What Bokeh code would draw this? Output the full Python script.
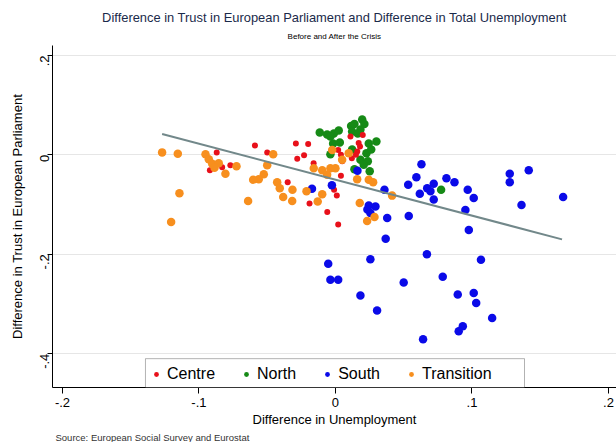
import math
from bokeh.plotting import figure
from bokeh.models import (Range1d, FixedTicker, BoxAnnotation, Legend,
                          LegendItem, Title)
from bokeh.embed import file_html
from bokeh.resources import INLINE

# ---------------- data ----------------
centre_x = [-0.087, -0.092, -0.083, -0.077, -0.059, -0.050, -0.029, -0.028,
            -0.035, -0.020, -0.023, -0.016, 0.011, 0.018, 0.016, 0.015,
            0.002, 0.004, 0.005, 0.012, 0.004, -0.001, 0.001, -0.019,
            -0.006, 0.002, 0.017, 0.020]
centre_y = [0.005, -0.031, -0.025, -0.021, 0.019, 0.005, 0.023, -0.008,
            -0.055, 0.022, -0.001, -0.017, 0.037, 0.017, 0.007, 0.000,
            0.010, 0.000, -0.013, -0.007, -0.042, -0.070, -0.082, -0.098,
            -0.115, -0.140, 0.024, 0.040]

north_x = [-0.0115, -0.0061, -0.0012, 0.0024, -0.0037, 0.0115, 0.0139,
           0.0196, 0.0212, 0.0183, 0.0122, 0.0163, -0.0017, 0.0032, 0.0244,
           0.0300, 0.0122, 0.0227, 0.0262, 0.0183, 0.0237, 0.0207, 0.0139,
           0.0251, -0.0037, 0.0774]
north_y = [0.045, 0.041, 0.043, 0.049, 0.037, 0.058, 0.062, 0.071, 0.062,
           0.051, 0.047, 0.043, 0.023, 0.025, 0.023, 0.027, 0.011, 0.003,
           0.011, -0.010, -0.013, -0.020, -0.029, -0.033, 0.001, -0.070]

south_x = [0.0161, -0.0172, -0.0026, 0.0359, 0.0244, 0.0293, 0.0234, 0.0256,
           0.0379, 0.0368, 0.0630, 0.0593, 0.0533, 0.0672, 0.0720, 0.0696,
           0.0618, 0.0720, 0.0813, 0.0872, 0.0969, 0.1013, 0.0952, 0.0977,
           0.1277, 0.1277, 0.1416, 0.1363, 0.1668, 0.0537, 0.0670, 0.1066,
           -0.0053, 0.0256, -0.0037, 0.0020, 0.0500, 0.0786, 0.0183, 0.0896,
           0.1013, 0.1031, 0.0305, 0.1148, 0.0933, 0.0903, 0.0642]
south_y = [-0.032, -0.068, -0.061, -0.070, -0.102, -0.104, -0.110, -0.117,
           -0.127, -0.169, -0.019, -0.045, -0.060, -0.067, -0.058, -0.073,
           -0.078, -0.090, -0.047, -0.055, -0.070, -0.087, -0.111, -0.151,
           -0.038, -0.055, -0.031, -0.101, -0.085, -0.123, -0.200, -0.211,
           -0.219, -0.210, -0.251, -0.251, -0.257, -0.245, -0.283, -0.281,
           -0.278, -0.298, -0.313, -0.328, -0.345, -0.355, -0.371]

trans_x = [-0.1270, -0.1155, -0.0952, -0.0928, -0.0903, -0.0855, -0.0806,
           -0.0725, -0.0456, -0.0500, -0.0525, -0.0562, -0.0603, -0.0427,
           -0.0408, -0.0315, -0.0383, -0.0317, -0.0640, -0.1143, -0.1204,
           -0.0212, -0.0097, -0.0130, 0.0178, 0.0232, 0.0286, 0.0159, 0.0244,
           0.0276, -0.0024, 0.0049, 0.0097, -0.0159, -0.0097, -0.0037, 0.0000,
           -0.0061, 0.0415, -0.0886]
trans_y = [0.005, 0.002, 0.001, -0.009, -0.018, -0.017, -0.038, -0.023,
           0.001, -0.021, -0.039, -0.049, -0.050, -0.055, -0.067, -0.070,
           -0.085, -0.093, -0.093, -0.077, -0.135, -0.073, -0.079, -0.094,
           -0.097, -0.133, -0.125, -0.049, -0.050, -0.055, 0.010, -0.010,
           0.003, -0.027, -0.031, -0.027, -0.027, -0.040, -0.082, -0.026]

fit_x = [-0.127, 0.166]
fit_y = [0.042, -0.170]

x_ticks = [-0.2, -0.1, 0, 0.1, 0.2]
x_tick_labels = ["-.2", "-.1", "0", ".1", ".2"]
y_ticks = [-0.4, -0.2, 0, 0.2]
y_tick_labels = ["-.4", "-.2", "0", ".2"]

title_text = "Difference in Trust in European Parliament and Difference in Total Unemployment"
subtitle_text = "Before and After the Crisis"
xlabel_text = "Difference in Unemployment"
ylabel_text = "Difference in Trust in European Parliament"
source_text = "Source: European Social Survey and Eurostat"
group_names = ["Centre", "North", "South", "Transition"]

# ---------------- styling ----------------
FONT = "Liberation Sans"
C_RED = "#e8101a"
C_GREEN = "#168a16"
C_BLUE = "#0a0ae8"
C_ORANGE = "#f78f1e"
C_FIT = "#72888a"

X0, X1 = -0.2073, 0.2059
Y0, Y1 = -0.468, 0.22

p = figure(width=616, height=442, output_backend="svg", toolbar_location=None,
           x_range=Range1d(X0, X1), y_range=Range1d(Y0, Y1),
           min_border_left=52, min_border_right=0, min_border_top=45,
           min_border_bottom=53)
p.background_fill_color = "white"
p.border_fill_color = "white"
p.outline_line_color = None

# axes
p.xaxis.ticker = FixedTicker(ticks=x_ticks)
p.xaxis.major_label_overrides = dict(zip(x_ticks, x_tick_labels))
p.yaxis.ticker = FixedTicker(ticks=y_ticks)
p.yaxis.major_label_overrides = dict(zip(y_ticks, y_tick_labels))
for ax in (p.xaxis, p.yaxis):
    ax.axis_line_color = "black"
    ax.axis_line_width = 1
    ax.major_tick_line_color = "black"
    ax.major_tick_in = 0
    ax.minor_tick_line_color = None
    ax.major_label_text_font = FONT
    ax.major_label_text_font_size = "13px"
    ax.major_label_text_color = "black"
    ax.axis_label_text_font = FONT
    ax.axis_label_text_font_size = "13px"
    ax.axis_label_text_font_style = "normal"
    ax.axis_label_text_color = "black"
p.xaxis.major_tick_out = 6
p.xaxis.major_label_standoff = 4
p.xaxis.axis_label = xlabel_text
p.xaxis.axis_label_standoff = 2
p.yaxis.major_tick_out = 5
p.yaxis.major_label_standoff = 3
p.yaxis.major_label_orientation = math.pi / 2
p.yaxis.axis_label = ylabel_text
p.yaxis.axis_label_standoff = 8

p.xgrid.grid_line_color = None
p.ygrid.ticker = FixedTicker(ticks=y_ticks)
p.ygrid.grid_line_color = "#e6e6e6"
p.ygrid.grid_line_width = 1

# points
r_n = p.scatter(north_x, north_y, size=8.5, color=C_GREEN, line_color=None)
r_c = p.scatter(centre_x, centre_y, size=6, color=C_RED, line_color=None)
r_s = p.scatter(south_x, south_y, size=8.5, color=C_BLUE, line_color=None)
r_t = p.scatter(trans_x, trans_y, size=8.5, color=C_ORANGE, line_color=None)

# fitted line
p.line(fit_x, fit_y, line_color=C_FIT, line_width=2)

# legend frame and legend
box = BoxAnnotation(left=-0.1392, right=0.1385, top=-0.410, bottom=Y0,
                    fill_color="white", fill_alpha=1.0,
                    line_color="black", line_width=1)
p.add_layout(box)

legend = Legend(items=[LegendItem(label=group_names[0], renderers=[r_c]),
                       LegendItem(label=group_names[1], renderers=[r_n]),
                       LegendItem(label=group_names[2], renderers=[r_s]),
                       LegendItem(label=group_names[3], renderers=[r_t])],
                location=(98, 3), orientation="horizontal")
legend.border_line_alpha = 0
legend.background_fill_alpha = 0
legend.padding = 0
legend.spacing = 25
legend.glyph_width = 12
legend.glyph_height = 20
legend.label_height = 20
legend.label_standoff = 5
legend.label_text_font = FONT
legend.label_text_font_size = "16px"
legend.label_text_color = "black"
p.add_layout(legend)

# titles (subtitle first: it sits closer to the frame) and source note
p.add_layout(Title(text=subtitle_text, align="center", text_font=FONT,
                   text_font_size="8px", text_font_style="normal",
                   text_color="black", standoff=9), "above")
p.add_layout(Title(text=title_text, align="center", text_font=FONT,
                   text_font_size="12.9px", text_font_style="normal",
                   text_color="#1a2a4a", standoff=1), "above")
p.add_layout(Title(text=source_text, align="left", text_font=FONT,
                   text_font_size="9.5px", text_font_style="normal",
                   text_color="#333333", standoff=0, offset=3), "below")

open("out.html", "w").write(file_html(p, INLINE))
